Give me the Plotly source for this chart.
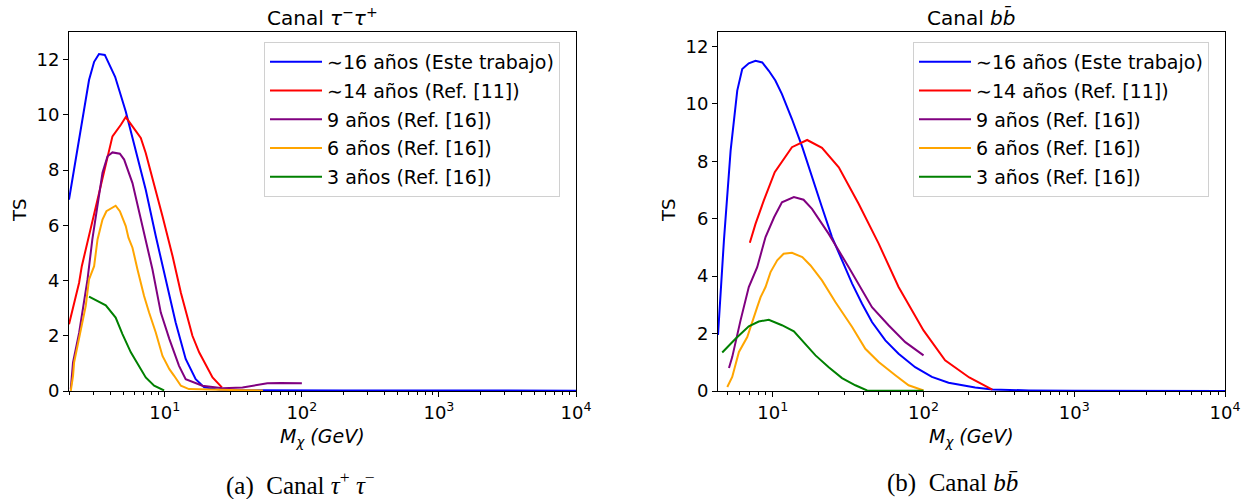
import math
import plotly.graph_objects as go

W, H = 1253, 499

# ---- Canal tau- tau+ ----
tau_blue_x = [2.0, 2.37, 2.80, 3.05, 3.31, 3.65, 4.34, 5.19, 6.14, 7.26, 8.59, 10.2, 12.0, 14.2, 16.8,
              19.4, 25, 40, 70, 100, 200, 500, 1000, 3000, 10000]
tau_blue_y = [6.93, 9.1, 11.26, 11.92, 12.2, 12.17, 11.38, 10.12, 8.74, 7.29, 5.61, 4.04, 2.48, 1.16, 0.43,
              0.13, 0.05, 0.03, 0.02, 0.02, 0.02, 0.02, 0.02, 0.01, 0.01]

tau_red_x = [2.0, 2.37, 2.48, 2.96, 3.51, 4.15, 4.78, 5.19, 5.81, 6.68, 7.26, 8.22, 9.62, 11.4, 13.1,
             15.9, 17.8, 22.3, 26.1]
tau_red_y = [2.42, 3.92, 4.52, 6.1, 7.65, 9.22, 9.64, 9.92, 9.58, 9.16, 8.62, 7.65, 6.33, 4.88, 3.56,
             2.0, 1.4, 0.49, 0.13]

tau_purple_x = [2.06, 2.14, 2.37, 2.73, 2.96, 3.31, 3.51, 3.82, 4.15, 4.70, 5.05, 5.81, 7.06, 8.13, 9.35,
                10.8, 12.7, 14.2, 18.8, 26.4, 36.9, 45, 56, 70, 85, 100]
tau_purple_y = [0.07, 1.04, 2.1, 4.04, 5.49, 7.17, 7.9, 8.5, 8.64, 8.59, 8.38, 7.53, 5.73, 4.4, 2.84,
                1.88, 0.91, 0.43, 0.19, 0.1, 0.13, 0.2, 0.28, 0.29, 0.27, 0.28]

tau_orange_x = [2.06, 2.14, 2.18, 2.44, 2.65, 2.80, 3.05, 3.23, 3.51, 3.75, 4.38, 4.70, 5.19, 5.43, 5.81,
                6.32, 7.06, 7.68, 8.59, 9.62, 10.8, 11.7, 13.1, 15.0, 20, 30, 40, 52]
tau_orange_y = [0.0, 0.55, 1.04, 2.24, 3.08, 4.04, 4.52, 5.49, 6.21, 6.51, 6.71, 6.51, 5.97, 5.55, 5.19,
                4.40, 3.44, 2.84, 2.12, 1.27, 0.79, 0.55, 0.19, 0.07, 0.05, 0.04, 0.03, 0.02]

tau_green_x = [2.80, 3.71, 4.38, 4.91, 5.65, 6.32, 7.26, 8.36, 9.88]
tau_green_y = [3.42, 3.1, 2.66, 2.06, 1.4, 0.97, 0.49, 0.19, 0.02]

# ---- Canal b bbar ----
bb_blue_x = [4.33, 4.74, 5.25, 5.81, 6.27, 6.93, 7.68, 8.51, 9.41, 10.4, 11.5, 13.4, 15.7, 18.2, 21.2,
             24.7, 28.8, 33.6, 39.1, 45.5, 55.8, 68.3, 88.0, 113.6, 146.6, 220, 286, 500, 1000, 3000, 10000]
bb_blue_y = [1.95, 5.24, 8.37, 10.46, 11.21, 11.41, 11.5, 11.44, 11.15, 10.81, 10.34, 9.47, 8.49, 7.44, 6.4,
             5.36, 4.55, 3.74, 3.04, 2.4, 1.76, 1.3, 0.83, 0.49, 0.29, 0.12, 0.05, 0.02, 0.01, 0.005, 0.002]

bb_red_x = [7.04, 7.68, 8.71, 10.3, 13.4, 16.9, 21.2, 27.4, 37.1, 50.4, 68.3, 100, 139, 201, 286]
bb_red_y = [5.16, 5.82, 6.63, 7.62, 8.49, 8.74, 8.47, 7.79, 6.52, 5.13, 3.62, 2.11, 1.07, 0.47, 0.05]

bb_purple_x = [5.12, 5.38, 6.11, 6.93, 7.88, 8.95, 10.2, 11.5, 13.8, 16.0, 18.2, 23.5, 31.9, 39.1, 45.5,
               58.6, 75.7, 100]
bb_purple_y = [0.8, 1.18, 2.46, 3.62, 4.31, 5.36, 6.05, 6.57, 6.75, 6.66, 6.34, 5.47, 4.31, 3.5, 2.92,
               2.29, 1.7, 1.24]

bb_orange_x = [4.99, 5.38, 5.96, 6.77, 7.88, 8.30, 8.95, 9.66, 10.7, 11.8, 13.4, 15.7, 17.8, 21.2, 26.0,
               33.6, 41.1, 50.4, 65.0, 79.6, 100]
bb_orange_y = [0.14, 0.49, 1.36, 1.88, 2.92, 3.27, 3.62, 4.14, 4.55, 4.78, 4.81, 4.66, 4.37, 3.85, 3.1,
               2.23, 1.47, 1.01, 0.55, 0.2, 0.02]

bb_green_x = [4.62, 5.66, 6.93, 8.07, 9.41, 11.5, 13.8, 16.0, 19.2, 23.5, 28.8, 35.3, 42.2, 60, 80, 100]
bb_green_y = [1.34, 1.82, 2.25, 2.42, 2.48, 2.29, 2.08, 1.7, 1.24, 0.83, 0.45, 0.2, 0.02, 0.01, 0.01, 0.01]

labels = ["∼16 años (Este trabajo)", "∼14 años (Ref. [11])", "9 años (Ref. [16])",
          "6 años (Ref. [16])", "3 años (Ref. [16])"]
colors = ["blue", "red", "purple", "orange", "green"]

x_major = [10, 100, 1000, 10000]
x_major_text = ["10<sup>1</sup>", "10<sup>2</sup>", "10<sup>3</sup>", "10<sup>4</sup>"]
y_ticks = [0, 2, 4, 6, 8, 10, 12]

FONT = "DejaVu Sans"


def px_x(p):
    return p / W


def px_y(p):
    return 1 - p / H


tau_series = [(tau_blue_x, tau_blue_y), (tau_red_x, tau_red_y), (tau_purple_x, tau_purple_y),
              (tau_orange_x, tau_orange_y), (tau_green_x, tau_green_y)]
bb_series = [(bb_blue_x, bb_blue_y), (bb_red_x, bb_red_y), (bb_purple_x, bb_purple_y),
             (bb_orange_x, bb_orange_y), (bb_green_x, bb_green_y)]

fig = go.Figure()
for i, (xs, ys) in enumerate(tau_series):
    fig.add_trace(go.Scatter(x=xs, y=ys, mode="lines", name=labels[i],
                             line=dict(color=colors[i], width=2),
                             xaxis="x", yaxis="y", legend="legend", legendgroup=f"a{i}"))
for i, (xs, ys) in enumerate(bb_series):
    fig.add_trace(go.Scatter(x=xs, y=ys, mode="lines", name=labels[i],
                             line=dict(color=colors[i], width=2),
                             xaxis="x2", yaxis="y2", legend="legend2", legendgroup=f"b{i}"))


def minor_vals(lo):
    vals = []
    for e in range(0, 4):
        for m in range(2, 10):
            v = m * 10 ** e
            if v >= lo:
                vals.append(v)
    return vals


def xaxis(domain, lo, anchor):
    return dict(domain=domain, type="log", range=[math.log10(lo), 4], anchor=anchor,
                showline=True, mirror=True, linecolor="black", linewidth=1,
                showgrid=False, zeroline=False, automargin=False,
                tickmode="array", tickvals=x_major, ticktext=x_major_text,
                ticks="outside", ticklen=5, tickwidth=1, tickcolor="black",
                tickfont=dict(family=FONT, size=18, color="black"),
                minor=dict(tickmode="array", tickvals=minor_vals(lo), ticks="outside",
                           ticklen=3, tickwidth=1, tickcolor="black", showgrid=False))


def yaxis(domain, top, anchor):
    return dict(domain=domain, range=[0, top], anchor=anchor,
                showline=True, mirror=True, linecolor="black", linewidth=1,
                showgrid=False, zeroline=False, automargin=False,
                tickmode="array", tickvals=y_ticks,
                ticks="outside", ticklen=5, tickwidth=1, tickcolor="black",
                tickfont=dict(family=FONT, size=18, color="black"))


ydom = [px_y(391), px_y(32)]
legend_common = dict(bgcolor="rgba(255,255,255,0.8)", bordercolor="#d0d0d0", borderwidth=1,
                     font=dict(family=FONT, size=19, color="black"),
                     xanchor="left", yanchor="top", tracegroupgap=1, itemwidth=52)

annotations = [
    dict(text="Canal <i>τ</i><sup>−</sup><i>τ</i><sup>+</sup>", x=px_x(322), y=px_y(17), size=20),
    dict(text="Canal <i>b</i><i>b̄</i>", x=px_x(971), y=px_y(17), size=20),
    dict(text="<i>M</i><sub><i>χ</i></sub> <i>(GeV)</i>", x=px_x(322), y=px_y(437), size=19),
    dict(text="<i>M</i><sub><i>χ</i></sub> <i>(GeV)</i>", x=px_x(971), y=px_y(437), size=19),
    dict(text="TS", x=px_x(19), y=px_y(211), textangle=-90, size=18),
    dict(text="TS", x=px_x(668), y=px_y(211), textangle=-90, size=18),
]
for a in annotations:
    size = a.pop("size")
    a.update(xref="paper", yref="paper", showarrow=False, xanchor="center", yanchor="middle",
             font=dict(family=FONT, size=size, color="black"))

captions = [
    dict(text="(a)  Canal <i>τ</i><sup>+</sup> <i>τ</i><sup>−</sup>", x=px_x(300), y=px_y(483)),
    dict(text="(b)  Canal <i>b</i><i>b̄</i>", x=px_x(952), y=px_y(483)),
]
for c in captions:
    c.update(xref="paper", yref="paper", showarrow=False, xanchor="center", yanchor="middle",
             font=dict(family="Liberation Serif", size=25, color="black"))

fig.update_layout(
    width=W, height=H, autosize=False,
    margin=dict(l=0, r=0, t=0, b=0, pad=0),
    paper_bgcolor="white", plot_bgcolor="white",
    xaxis=xaxis([px_x(69), px_x(576)], 2.0, "y"),
    yaxis=yaxis(ydom, 13, "x"),
    xaxis2=xaxis([px_x(718), px_x(1225)], 4.33, "y2"),
    yaxis2=yaxis(ydom, 12.5, "x2"),
    legend=dict(x=px_x(264), y=px_y(42), **legend_common),
    legend2=dict(x=px_x(913), y=px_y(42), **legend_common),
    annotations=annotations + captions,
)

fig.write_html("out.html")
